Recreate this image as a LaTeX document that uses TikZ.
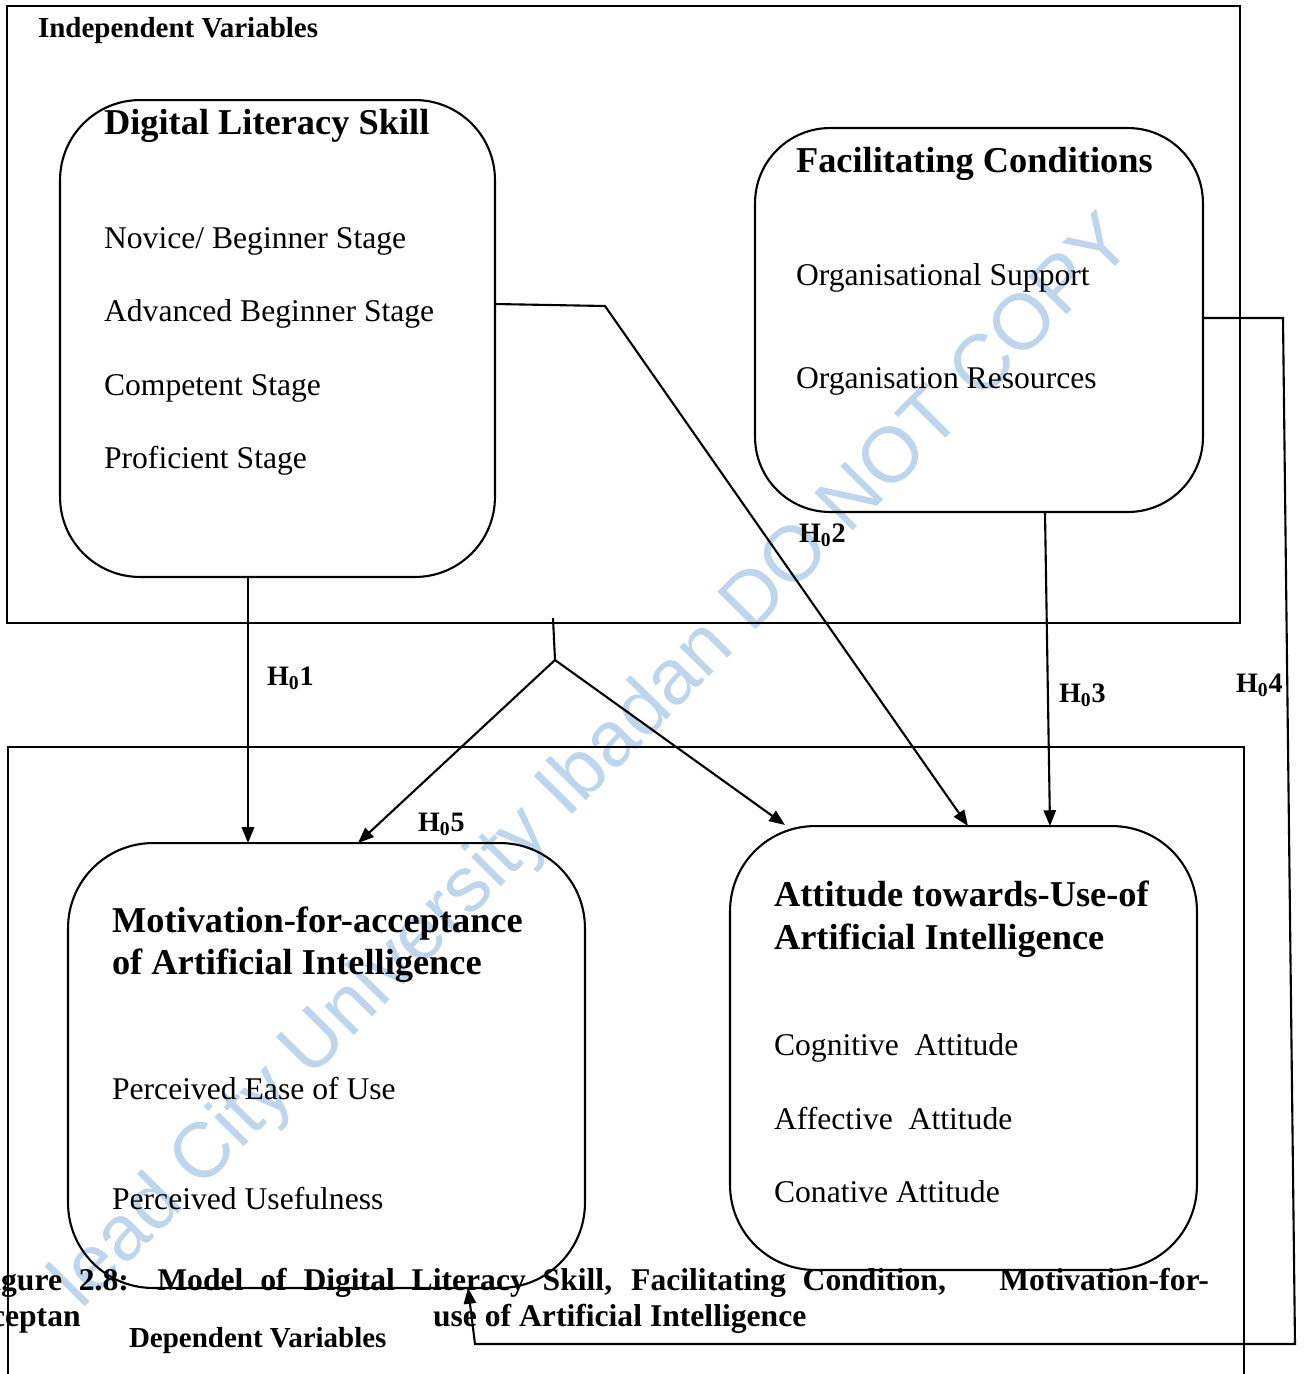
\documentclass[tikz,border=0pt]{standalone}
\usepackage{fontspec}
\setmainfont{Liberation Serif}
\newfontfamily\wmfont{Liberation Sans}
\usetikzlibrary{arrows.meta}
\definecolor{wmblue}{RGB}{189,214,238}
\begin{document}
\begin{tikzpicture}[x=0.02cm,y=-0.02cm,
  line width=1.2pt,
  frame/.style={draw, rectangle, inner sep=0pt, outer sep=0pt},
  rbox/.style={draw, rectangle, rounded corners=#1, inner sep=0pt, outer sep=0pt},
  conn/.style={-{Triangle[length=9pt,width=7pt]}, line width=1.2pt},
  ttl/.style={anchor=base west, inner sep=0pt, font=\fontsize{20.7}{24}\selectfont\bfseries},
  item/.style={anchor=base west, inner sep=0pt, font=\fontsize{18}{22}\selectfont},
  lbl/.style={anchor=base west, inner sep=0pt, font=\fontsize{16.5}{20}\selectfont\bfseries},
  hyp/.style={anchor=base west, inner sep=0pt, font=\fontsize{16}{20}\selectfont\bfseries},
  capt/.style={anchor=base west, inner sep=0pt, font=\fontsize{18}{22}\selectfont\bfseries},
  wm/.style={anchor=base, inner sep=0pt, text=wmblue, font=\wmfont\fontsize{44.5}{52}\selectfont},
]
\useasboundingbox (0,0) rectangle (1303,1374);
\clip (0,0) rectangle (1303,1374);
\fill[white] (0,0) rectangle (1303,1374);

% watermark
\node[wm, rotate=45.3] (wmark) at (609,778) {lead City University Ibadan DO NOT COPY};

% group frames
\node[frame, minimum width=24.66cm, minimum height=12.34cm] (indep) at (623.5,314.5) {};
\node[frame, minimum width=24.72cm, minimum height=13.46cm] (dep) at (626,1083.5) {};

% construct boxes
\node[rbox=1.6cm, minimum width=8.7cm, minimum height=9.54cm] (dls) at (277.5,338.5) {};
\node[rbox=1.5cm, minimum width=8.96cm, minimum height=7.68cm] (fac) at (979,320) {};
\node[rbox=1.7cm, minimum width=10.34cm, minimum height=8.9cm] (mot) at (326.5,1065.5) {};
\node[rbox=1.7cm, minimum width=9.34cm, minimum height=8.88cm] (att) at (963.5,1048) {};

% texts
\node[lbl] (indeplbl) at (37,37) {Independent Variables};
\node[ttl] (dlst) at (103,134) {Digital Literacy Skill};
\node[item] (dls1) at (103,248) {Novice/ Beginner Stage};
\node[item] (dls2) at (103,321) {Advanced Beginner Stage};
\node[item] (dls3) at (103,395) {Competent Stage};
\node[item] (dls4) at (103,468) {Proficient Stage};

\node[ttl] (fact) at (795,172) {Facilitating Conditions};
\node[item] (fac1) at (795,285) {Organisational Support};
\node[item] (fac2) at (795,388) {Organisation Resources};

\node[ttl] (mott1) at (111,932) {Motivation-for-acceptance};
\node[ttl] (mott2) at (111,974) {of Artificial Intelligence};
\node[item] (mot1) at (111,1099) {Perceived Ease of Use};
\node[item] (mot2) at (111,1209) {Perceived Usefulness};

\node[ttl] (att1t) at (773,906) {Attitude towards-Use-of};
\node[ttl] (att2t) at (773,949) {Artificial Intelligence};
\node[item] (att1) at (773,1055) {Cognitive\ \ Attitude};
\node[item] (att2) at (773,1129) {Affective\ \ Attitude};
\node[item] (att3) at (773,1202) {Conative Attitude};

% hypotheses labels
\node[hyp] (h1) at (266,685) {H\textsubscript{0}1};
\node[hyp] (h2) at (798,542) {H\textsubscript{0}2};
\node[hyp] (h3) at (1058,702) {H\textsubscript{0}3};
\node[hyp] (h4) at (1235,692) {H\textsubscript{0}4};
\node[hyp] (h5) at (417,831) {H\textsubscript{0}5};

% connectors
\draw[conn] (dls.south -| 248,0) -- (mot.north -| 248,0);
\draw[conn] (dls.east |- 0,304) -- (605,306) -- (att.north -| 968,0);
\draw[conn] (fac.south -| 1045,0) -- (att.north -| 1050,0);
\coordinate (jtop) at (553,618);
\coordinate (j) at (555,660);
\draw (jtop) -- (j);
\draw[conn] (j) -- (mot.north -| 358,0);
\draw[conn] (j) -- (785,825);
\draw[conn] (fac.east |- 0,318) -- (1283,318) -- (1295,1344) -- (475,1344) -- (mot.south -| 468,0);

% caption (partly covered)
\node[capt] (cap1) at (-28,1290) {\makebox[19.46cm][s]{Figure 2.8: Model of Digital Literacy Skill, Facilitating Condition,}};
\node[capt, anchor=base east] (cap2) at (1210,1290) {Motivation-for-};
\node[capt] (cap3) at (-10,1326) {ceptan};
\node[capt] (cap4) at (432,1326) {use of Artificial Intelligence};
\node[lbl] (deplbl) at (128,1347) {Dependent Variables};
\end{tikzpicture}
\end{document}
